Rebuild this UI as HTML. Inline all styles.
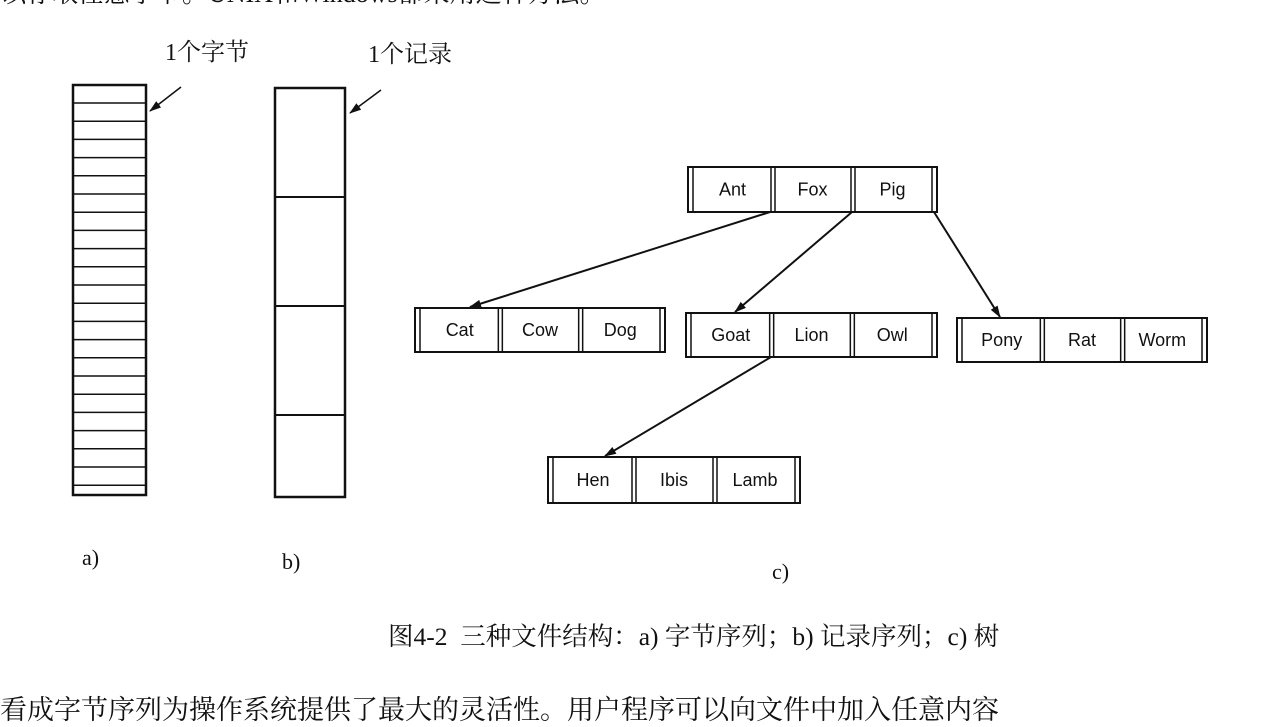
<!DOCTYPE html>
<html><head><meta charset="utf-8"><style>
body{margin:0;width:1264px;height:706px;background:#fff;overflow:hidden;position:relative}
.t{position:absolute;font-family:"Liberation Serif","Noto Serif CJK SC",serif;color:#111;white-space:nowrap}
</style></head><body>
<div class="t" style="left:0;top:-27px;font-size:26px">以存取任意字节。UNIX和Windows都采用这种方法。</div>
<svg width="1264" height="706" style="position:absolute;left:0;top:0" font-family="Liberation Sans, sans-serif">
<defs><marker id="ar" markerWidth="12" markerHeight="8" refX="11" refY="4" orient="auto" markerUnits="userSpaceOnUse"><path d="M0,0 L12,4 L0,8 z" fill="#111"/></marker></defs>
<g stroke="#111" fill="none">
<rect x="73" y="85" width="73" height="410" stroke-width="2.5"/>
<g stroke-width="1.5" id="bl"></g>
<rect x="275" y="88" width="70" height="409" stroke-width="2.5"/>
<line x1="275" y1="197" x2="345" y2="197" stroke-width="2"/>
<line x1="275" y1="306" x2="345" y2="306" stroke-width="2"/>
<line x1="275" y1="415" x2="345" y2="415" stroke-width="2"/>
<line x1="181" y1="87" x2="150" y2="111" stroke-width="1.5" marker-end="url(#ar)"/>
<line x1="381" y1="90" x2="350" y2="113" stroke-width="1.5" marker-end="url(#ar)"/>
<line x1="770" y1="212" x2="470" y2="307" stroke-width="2" marker-end="url(#ar)"/>
<line x1="852" y1="212" x2="735" y2="312" stroke-width="2" marker-end="url(#ar)"/>
<line x1="934" y1="212" x2="1000" y2="317" stroke-width="2" marker-end="url(#ar)"/>
<line x1="771" y1="357" x2="605" y2="456" stroke-width="2" marker-end="url(#ar)"/>
</g>
<g id="nodes" stroke="#111" fill="none"></g>
<g id="lbl" font-size="18" fill="#111" text-anchor="middle"></g>
</svg>
<div class="t" style="left:165px;top:32px;font-size:24px">1个字节</div>
<div class="t" style="left:368px;top:34px;font-size:24px">1个记录</div>
<div class="t" style="left:82px;top:545px;font-size:22px">a)</div>
<div class="t" style="left:282px;top:549px;font-size:22px">b)</div>
<div class="t" style="left:772px;top:559px;font-size:22px">c)</div>
<div class="t" style="left:388px;top:617px;font-size:25.5px">图4-2&nbsp; 三种文件结构：a) 字节序列；b) 记录序列；c) 树</div>
<div class="t" style="left:0;top:688px;font-size:27px">看成字节序列为操作系统提供了最大的灵活性。用户程序可以向文件中加入任意内容</div>
<script>
var ns="http://www.w3.org/2000/svg";
function el(p,t,a){var e=document.createElementNS(ns,t);for(var k in a)e.setAttribute(k,a[k]);p.appendChild(e);return e}
var bl=document.getElementById('bl');
for(var y=103;y<495;y+=18.2)el(bl,'line',{x1:73,y1:y.toFixed(1),x2:146,y2:y.toFixed(1)});
var g=document.getElementById('nodes'),L=document.getElementById('lbl');
function node(x,y,w,h,names){
 el(g,'rect',{x:x,y:y,width:w,height:h,'stroke-width':2});
 var c=(w-12)/3;
 el(g,'line',{x1:x+5,y1:y,x2:x+5,y2:y+h,'stroke-width':1.5});
 el(g,'line',{x1:x+w-5,y1:y,x2:x+w-5,y2:y+h,'stroke-width':1.5});
 for(var i=1;i<3;i++){var xx=x+5+i*(c+1);el(g,'line',{x1:xx-2,y1:y,x2:xx-2,y2:y+h,'stroke-width':1.5});el(g,'line',{x1:xx+2,y1:y,x2:xx+2,y2:y+h,'stroke-width':1.5});}
 for(var i=0;i<3;i++){var t=el(L,'text',{x:(x+5+i*(c+1)+c/2).toFixed(1),y:y+h/2+6});t.textContent=names[i];}
}
node(688,167,249,45,["Ant","Fox","Pig"]);
node(415,308,250,44,["Cat","Cow","Dog"]);
node(686,313,251,44,["Goat","Lion","Owl"]);
node(957,318,250,44,["Pony","Rat","Worm"]);
node(548,457,252,46,["Hen","Ibis","Lamb"]);
</script>
</body></html>
